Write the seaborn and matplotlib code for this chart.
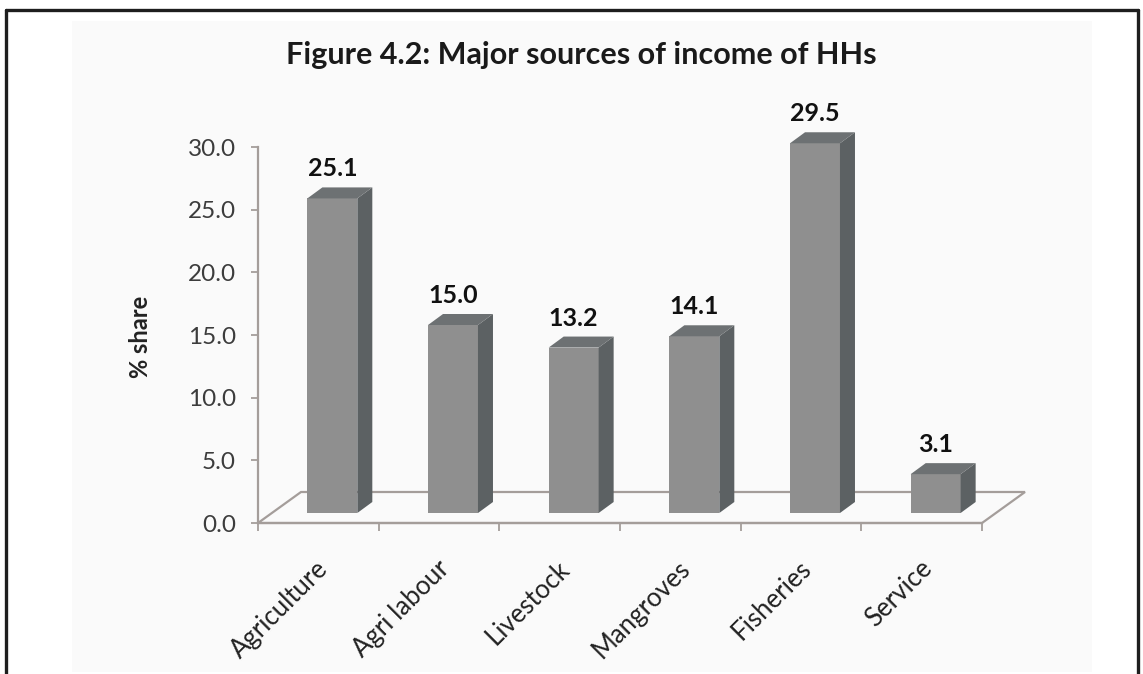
import numpy as np
import pandas as pd
import matplotlib
matplotlib.use("Agg")
import matplotlib.pyplot as plt
from matplotlib.patches import Polygon, Rectangle
from matplotlib.lines import Line2D
import seaborn as sns

# ---- data -------------------------------------------------------------
categories = ["Agriculture", "Agri labour", "Livestock", "Mangroves", "Fisheries", "Service"]
shares = [25.1, 15.0, 13.2, 14.1, 29.5, 3.1]
y_ticks = [0.0, 5.0, 10.0, 15.0, 20.0, 25.0, 30.0]
title = "Figure 4.2: Major sources of income of HHs"
y_label = "% share"

# ---- canvas -------------------------------------------------------------
W, H, DPI = 1143, 674, 100
FRONT = "#8f8f8f"
SIDE = "#5c6163"
TOP = "#6d7173"
AXIS = "#a49d9a"
TEXT = "#3c3c3c"

sns.set_theme(style="white")
plt.rcParams["font.family"] = ["Lato", "DejaVu Sans"]

fig = plt.figure(figsize=(W / DPI, H / DPI), dpi=DPI)
fig.patch.set_facecolor("white")


def fx(px):
    return px / W


def fy(py):
    return 1 - py / H


# light chart panel and the dark frame around the figure
fig.add_artist(Rectangle((fx(72), fy(672)), fx(1092) - fx(72), fy(21) - fy(672),
                         transform=fig.transFigure, facecolor="#fafafa",
                         edgecolor="none", zorder=0))
for xs, ys in [((6, 1138), (10, 10)), ((6, 6), (10, 674)), ((1138, 1138), (10, 674))]:
    fig.add_artist(Line2D([fx(x) for x in xs], [fy(y) for y in ys],
                          transform=fig.transFigure, color="#1e1e1e", lw=2.4))

ax = fig.add_axes([fx(258), fy(523), fx(982) - fx(258), fy(147) - fy(523)])
ax.set_facecolor("none")

df = pd.DataFrame({"source": categories, "share": shares})
sns.barplot(data=df, x="source", y="share", color=FRONT, saturation=1,
            width=0.414, ax=ax, zorder=3, edgecolor="none")
ax.set_xlim(-0.5, len(categories) - 0.5)
ax.set_ylim(y_ticks[0], y_ticks[-1])

# pixel -> data conversion for the oblique depth of the 3-D look
fig.canvas.draw()
p0 = ax.transData.transform((0, 0))
p1 = ax.transData.transform((1, 1))
ux = 1.0 / (p1[0] - p0[0])
uy = 1.0 / (p1[1] - p0[1])

FLOOR_D = (43 * ux, 31 * uy)     # depth of the floor
BAR_OFF = (14 * ux, 10 * uy)     # bars sit inside the floor
BAR_D = (15 * ux, 11 * uy)       # depth of each bar

# floor
x_lo, x_hi = ax.get_xlim()
floor = Polygon([(x_lo, 0), (x_hi, 0), (x_hi + FLOOR_D[0], FLOOR_D[1]),
                 (x_lo + FLOOR_D[0], FLOOR_D[1])], closed=True,
                facecolor="none", edgecolor=AXIS, lw=1.6, zorder=1, clip_on=False)
ax.add_patch(floor)

# turn flat bars into oblique boxes
for patch, val in zip(list(ax.patches)[:len(shares)], shares):
    x0 = patch.get_x() + BAR_OFF[0]
    w = patch.get_width()
    h = patch.get_height()
    b = BAR_OFF[1]
    patch.set_x(x0)
    patch.set_y(b)
    patch.set_clip_on(False)
    side = Polygon([(x0 + w, b), (x0 + w, b + h),
                    (x0 + w + BAR_D[0], b + h + BAR_D[1]),
                    (x0 + w + BAR_D[0], b + BAR_D[1])], closed=True,
                   facecolor=SIDE, edgecolor="none", zorder=3, clip_on=False)
    top = Polygon([(x0, b + h), (x0 + w, b + h),
                   (x0 + w + BAR_D[0], b + h + BAR_D[1]),
                   (x0 + BAR_D[0], b + h + BAR_D[1])], closed=True,
                  facecolor=TOP, edgecolor="none", zorder=3, clip_on=False)
    ax.add_patch(side)
    ax.add_patch(top)
    ax.annotate(f"{val:.1f}", xy=(x0 + w / 2, b + h), xytext=(0, 13),
                textcoords="offset points", ha="center", va="bottom",
                fontsize=18, fontweight="bold", color="#111111",
                annotation_clip=False)

# axes styling
for s in ["top", "right"]:
    ax.spines[s].set_visible(False)
for s in ["left", "bottom"]:
    ax.spines[s].set_color(AXIS)
    ax.spines[s].set_linewidth(1.6)
    ax.spines[s].set_zorder(2)

ax.set_yticks(y_ticks)
ax.set_yticklabels([f"{v:.1f}" for v in y_ticks])
ax.tick_params(axis="y", which="major", direction="out", length=5, width=1.3,
               color=AXIS, labelsize=17.5, labelcolor=TEXT, pad=11, left=True)

# category boundaries carry the tick marks, names are written diagonally
ax.set_xticks(np.arange(-0.5, len(categories)), labels=[""] * (len(categories) + 1))
ax.tick_params(axis="x", which="major", direction="out", length=6, width=1.3,
               color=AXIS, bottom=True)
for i, cat in enumerate(categories):
    ax.annotate(cat, xy=(i, 0), xytext=(4.5, -30), textcoords="offset points",
                rotation=45, rotation_mode="anchor", ha="right", va="center",
                fontsize=18.5, color="#222222", annotation_clip=False)

ax.set_xlabel("")
ax.set_ylabel(y_label, fontsize=17, fontweight="bold", color="#222222")
ax.yaxis.set_label_coords(-0.146, 0.495)

fig.text(fx(581), fy(55), title, ha="center", va="center",
         fontsize=22, fontweight="bold", color="#1a1a1a")

fig.savefig("out.png", dpi=DPI, facecolor="white")
